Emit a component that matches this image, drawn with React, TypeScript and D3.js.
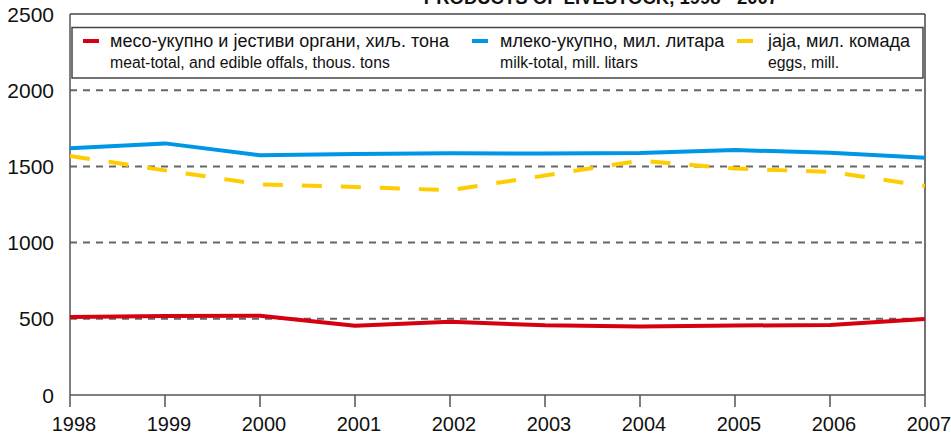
import React from "react";
import * as d3 from "d3";

const years = [1998, 1999, 2000, 2001, 2002, 2003, 2004, 2005, 2006, 2007];
const meat = [511, 518, 520, 454, 480, 458, 450, 456, 459, 498];
const milk = [1619, 1651, 1573, 1581, 1586, 1585, 1588, 1607, 1590, 1556];
const eggs = [1568, 1474, 1382, 1365, 1344, 1440, 1538, 1486, 1464, 1372];
const yTicks = [0, 500, 1000, 1500, 2000, 2500];
const gridTicks = [500, 1000, 1500, 2000];

const title = "PRODUCTS OF LIVESTOCK, 1998 - 2007";
const legendItems = [
  { sr: "месо-укупно и јестиви органи, хиљ. тона", en: "meat-total, and edible offals, thous. tons", color: "#d7000f" },
  { sr: "млеко-укупно, мил. литара", en: "milk-total, mill. litars", color: "#0096e6" },
  { sr: "јаја, мил. комада", en: "eggs, mill.", color: "#ffcc00" },
];

const W = 951, H = 434;
const left = 70, right = 925, top = 14, bottom = 395;

export default function App() {
  const x = d3.scaleLinear().domain([years[0], years[years.length - 1]]).range([left, right]);
  const y = d3.scaleLinear().domain([0, 2500]).range([bottom, top]);
  const line = d3.line<number>().x((_, i) => x(years[i])).y((d) => y(d));
  const font = "'Liberation Sans', Arial, sans-serif";
  const legendX = [83, 472, 737];
  const textX = [110, 500, 768];
  return (
    <svg width={W} height={H} style={{ position: "absolute", left: 0, top: 0, background: "#fff" }} fontFamily={font}>
      <rect x={0} y={0} width={W} height={H} fill="#fff" />
      <text x={601} y={4} textAnchor="middle" fontWeight="bold" fontSize={18.5} fill="#111">{title}</text>
      {gridTicks.map((t) => (
        <line key={t} x1={left} x2={right} y1={y(t)} y2={y(t)} stroke="#666" strokeWidth={2} strokeDasharray="7,6" />
      ))}
      <line x1={left} x2={right} y1={top} y2={top} stroke="#444" strokeWidth={1.5} />
      <line x1={right} x2={right} y1={top} y2={bottom} stroke="#444" strokeWidth={1.5} />
      <line x1={left} x2={left} y1={top} y2={bottom} stroke="#555" strokeWidth={1.5} />
      <line x1={left} x2={right} y1={bottom} y2={bottom} stroke="#555" strokeWidth={1.5} />
      {years.map((yr) => (
        <line key={yr} x1={x(yr)} x2={x(yr)} y1={bottom} y2={bottom + 12} stroke="#555" strokeWidth={1.5} />
      ))}
      {years.map((yr) => (
        <text key={yr} x={x(yr) + 4} y={431} textAnchor="middle" fontSize={20} fill="#111">{yr}</text>
      ))}
      {yTicks.map((t) => (
        <text key={t} x={54} y={y(t) + 7.5} textAnchor="end" fontSize={21} fill="#111">{t}</text>
      ))}
      <path d={line(milk) || ""} fill="none" stroke="#0096e6" strokeWidth={4} strokeLinejoin="round" />
      <path d={line(eggs) || ""} fill="none" stroke="#ffcc00" strokeWidth={4} strokeDasharray="20,19" />
      <path d={line(meat) || ""} fill="none" stroke="#d7000f" strokeWidth={4} strokeLinejoin="round" />
      <rect x={72} y={27.5} width={851} height={50.5} fill="#fff" stroke="#444" strokeWidth={1.5} />
      {legendItems.map((it, i) => (
        <g key={i}>
          <line x1={legendX[i]} x2={legendX[i] + 16} y1={41} y2={41} stroke={it.color} strokeWidth={4} />
          <text x={textX[i]} y={47} fontSize={18} fill="#111">{it.sr}</text>
          <text x={textX[i]} y={68} fontSize={15.8} fill="#111">{it.en}</text>
        </g>
      ))}
    </svg>
  );
}
